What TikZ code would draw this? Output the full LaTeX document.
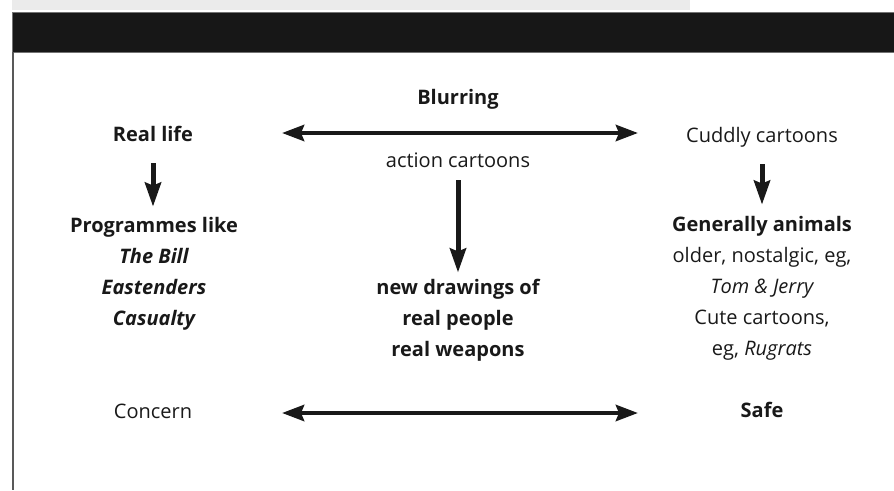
\documentclass[tikz,border=0pt]{standalone}
\usepackage{fontspec}
\setmainfont{Open Sans}
\usetikzlibrary{arrows.meta}
\usetikzlibrary{positioning}

\begin{document}
\begin{tikzpicture}[x=1pt,y=-1pt]
  \tikzset{txt/.style = {font=\fontsize{20}{31}\selectfont, text=black!90, inner sep=0pt, align=center, anchor=base}}
  \tikzset{twoway/.style = {{Stealth[length=22pt,width=16pt,inset=3pt]}-{Stealth[length=22pt,width=16pt,inset=3pt]}, line width=4.5pt, draw=black!90}}
  \tikzset{down/.style = {-{Stealth[length=24pt,width=16pt,inset=3pt]}, line width=5pt, draw=black!90}}

  \useasboundingbox (0,0) rectangle (894,490);

  % page frame
  \fill[black!8] (12,0) rectangle (690,10);
  \filldraw[fill=black!91, draw=black!55, line width=1pt] (12,12) rectangle (896,52);
  \draw[black!65, line width=1.5pt] (13,52) -- (13,490);

  % top row
  \node[txt] (real) at (153,141) {\bfseries Real life};
  \node[txt] (blur) at (458,104) {\bfseries Blurring};
  \node[txt] (action) at (458,167) {action cartoons};
  \node[txt] (cuddly) at (762,142) {Cuddly cartoons};

  % columns (base = last line)
  \node[txt] (prog) at (154,325) {\bfseries Programmes like\\
    \bfseries\itshape The Bill\\ \bfseries\itshape Eastenders\\ \bfseries\itshape Casualty};
  \node[txt] (drawn) at (458,356) {\bfseries new drawings of\\
    \bfseries real people\\ \bfseries real weapons};
  \node[txt] (animals) at (762,355) {\bfseries Generally animals\\
    older, nostalgic, eg,\\ \itshape Tom \& Jerry\\ Cute cartoons,\\ eg, \textit{Rugrats}};

  % bottom row
  \node[txt] (concern) at (153,418) {Concern};
  \node[txt] (safe) at (762,417) {\bfseries Safe};

  \coordinate (blurL) at (282,133);
  \coordinate (blurR) at (638,133);
  \coordinate (safeL) at (282,413);
  \coordinate (safeR) at (638,413);

  \draw[twoway] (blurL) -- (blurR);
  \draw[twoway] (safeL) -- (safeR);

  \draw[down, shorten <=22pt, shorten >=10pt] (real.south) -- (prog.north -| real.south);
  \draw[down, shorten <=13pt, shorten >=6pt] (action.south) -- (drawn.north -| action.south);
  \draw[down, shorten <=17pt, shorten >=11pt] (cuddly.south) -- (animals.north -| cuddly.south);
\end{tikzpicture}
\end{document}
